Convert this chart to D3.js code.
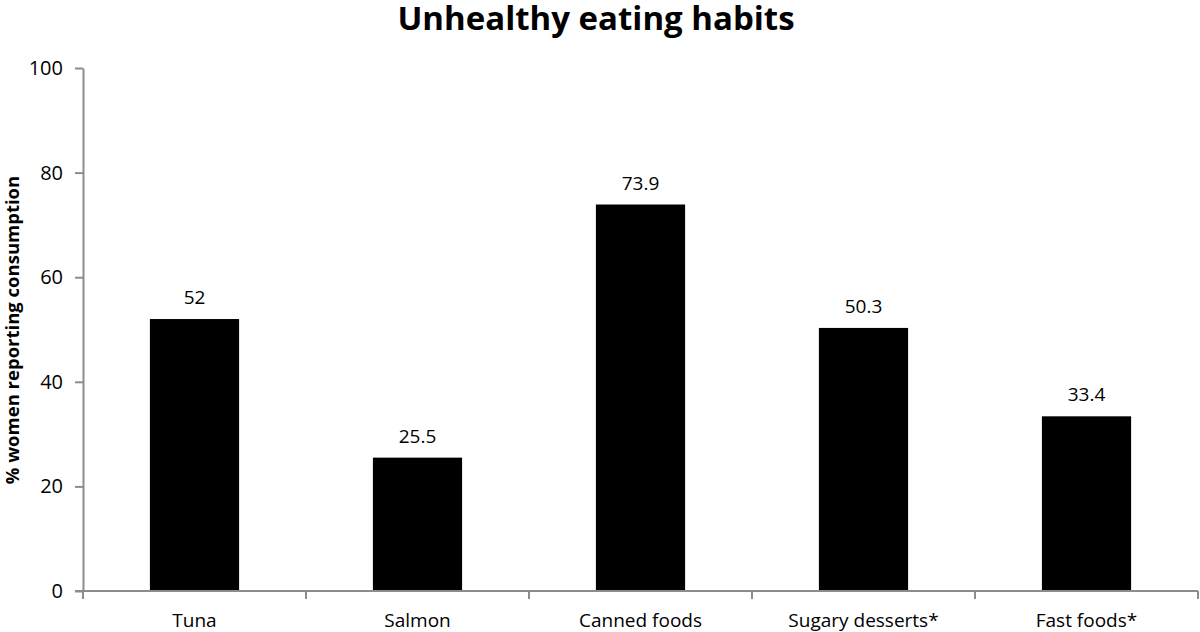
<!DOCTYPE html>
<html>
<head>
<meta charset="utf-8">
<script src="https://d3js.org/d3.v7.min.js"></script>
<style>
  body { margin: 0; background: #fff; }
  svg { display: block; font-family: "Open Sans", "Noto Sans", sans-serif; }
</style>
</head>
<body>
<svg width="1200" height="632"></svg>
<script>
const categories = ["Tuna", "Salmon", "Canned foods", "Sugary desserts*", "Fast foods*"];
const values = [52, 25.5, 73.9, 50.3, 33.4];
const valueLabels = ["52", "25.5", "73.9", "50.3", "33.4"];
const yTicks = [0, 20, 40, 60, 80, 100];

const svg = d3.select("svg");
const axisColor = "#8c8c8c";

const x = d3.scaleBand()
    .domain(categories)
    .range([83, 1198])
    .paddingInner(0.6)
    .paddingOuter(0.3);

const y = d3.scaleLinear()
    .domain([0, 100])
    .range([591, 68]);

// bars
svg.append("g")
    .selectAll("rect")
    .data(values)
    .enter().append("rect")
    .attr("x", (d, i) => x(categories[i]))
    .attr("y", d => y(d))
    .attr("width", x.bandwidth())
    .attr("height", d => y(0) - y(d))
    .attr("fill", "#000");

// value labels
svg.append("g")
    .style("font-size", "19px")
    .selectAll("text")
    .data(values)
    .enter().append("text")
    .attr("x", (d, i) => x(categories[i]) + x.bandwidth() / 2)
    .attr("y", d => y(d) - 15)
    .attr("text-anchor", "middle")
    .attr("fill", "#000")
    .text((d, i) => valueLabels[i]);

// y axis
const yAxis = svg.append("g")
    .attr("transform", "translate(83,0)")
    .call(d3.axisLeft(y).tickValues(yTicks).tickSize(8).tickPadding(12).tickSizeOuter(0));
yAxis.select(".domain").attr("stroke", axisColor).attr("stroke-width", 2);
yAxis.selectAll(".tick line").attr("stroke", axisColor).attr("stroke-width", 2);
yAxis.selectAll(".tick text")
    .attr("fill", "#000")
    .style("font-size", "20px")
    .style("font-family", "'Open Sans', sans-serif");

// x axis line with category boundary ticks
const xAxis = svg.append("g")
    .attr("transform", `translate(0,${y(0)})`);
xAxis.append("line")
    .attr("x1", 75).attr("x2", x.range()[1])
    .attr("stroke", axisColor).attr("stroke-width", 2);
const bounds = categories.map((c, i) => x.range()[0] + i * x.step());
bounds.push(x.range()[1]);
xAxis.selectAll("line.b")
    .data(bounds)
    .enter().append("line")
    .attr("class", "b")
    .attr("x1", d => d).attr("x2", d => d)
    .attr("y1", 0).attr("y2", 8)
    .attr("stroke", axisColor).attr("stroke-width", 2);
xAxis.selectAll("text")
    .data(categories)
    .enter().append("text")
    .attr("x", d => x(d) + x.bandwidth() / 2)
    .attr("y", 36)
    .attr("text-anchor", "middle")
    .attr("fill", "#000")
    .style("font-size", "19px")
    .text(d => d);

// y axis title
svg.append("text")
    .attr("transform", `translate(19,330) rotate(-90)`)
    .attr("text-anchor", "middle")
    .style("font-size", "18.5px")
    .style("font-weight", "bold")
    .text("% women reporting consumption");

// chart title
svg.append("text")
    .attr("x", 596)
    .attr("y", 30)
    .attr("text-anchor", "middle")
    .style("font-size", "33px")
    .style("font-weight", "bold")
    .text("Unhealthy eating habits");
</script>
</body>
</html>
